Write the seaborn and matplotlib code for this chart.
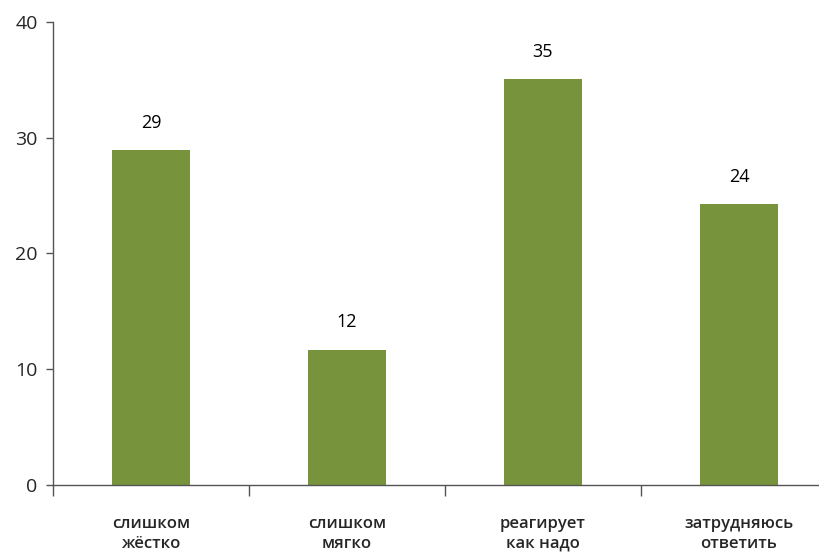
import matplotlib
matplotlib.use("Agg")
import matplotlib.pyplot as plt
import seaborn as sns
import pandas as pd

categories = ["слишком\nжёстко", "слишком\nмягко", "реагирует\nкак надо", "затрудняюсь\nответить"]
values = [28.9, 11.7, 35.1, 24.3]
labels = ["29", "12", "35", "24"]
yticks = [0, 10, 20, 30, 40]

sns.set_theme(style="white")
plt.rcParams['font.family'] = ['Open Sans', 'DejaVu Sans']

df = pd.DataFrame({"cat": categories, "val": values})

fig = plt.figure(figsize=(8.2, 5.53), dpi=100)
ax = fig.add_axes([53/820, 68/553, 784/820, 463/553])
sns.barplot(data=df, x="cat", y="val", color="#77933C", width=0.4, saturation=1,
            linewidth=0, ax=ax)

for i, (v, l) in enumerate(zip(values, labels)):
    ax.text(i, v + 2.35, l, ha="center", va="center", fontsize=13, color="black")

ax.set_xlim(-0.5, 3.5)
ax.set_ylim(0, 40)
ax.set_yticks(yticks)
ax.set_yticklabels([str(t) for t in yticks], fontsize=14)
ax.set_xlabel("")
ax.set_ylabel("")
for s in ["top", "right"]:
    ax.spines[s].set_visible(False)
for s in ["left", "bottom"]:
    ax.spines[s].set_color("#555555")
    ax.spines[s].set_linewidth(1.0)

ax.tick_params(axis="y", direction="out", length=5, width=1, color="#555555", pad=6, left=True)
ax.set_xticks(range(len(categories)))
ax.set_xticklabels(categories, fontsize=12, fontweight="semibold", linespacing=1.35)
ax.tick_params(axis="x", which="major", length=0, pad=22, bottom=True)
ax.set_xticks([-0.5, 0.5, 1.5, 2.5, 3.5], minor=True)
ax.tick_params(axis="x", which="minor", direction="out", length=8, width=1, color="#555555", bottom=True)

fig.savefig("out.png", dpi=100)
